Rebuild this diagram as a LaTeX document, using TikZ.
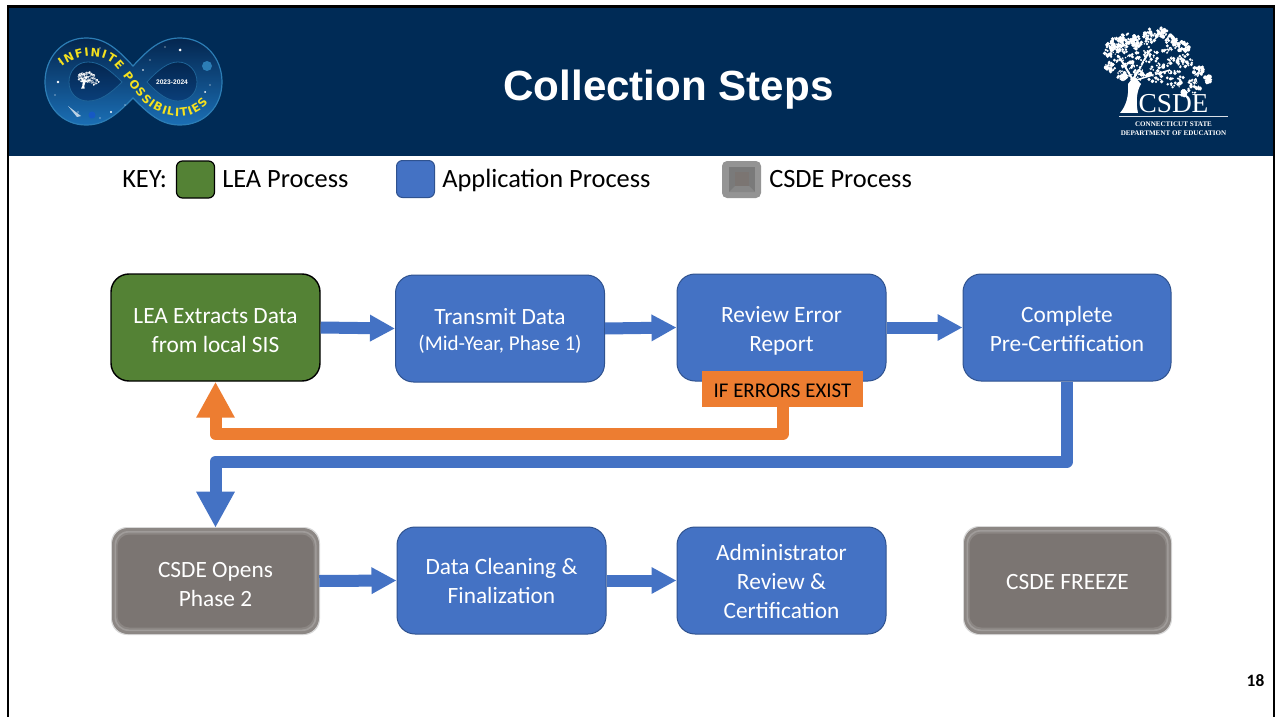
\documentclass[tikz,border=0pt]{standalone}
\usepackage{fontspec}
\setmainfont{Carlito}
\newfontfamily\arialfont{Liberation Sans}
\newfontfamily\timesfont{Liberation Serif}
\newfontfamily\wideboldfont{DejaVu Sans}
\usetikzlibrary{arrows.meta,decorations.text}
\newlength{\px}\setlength{\px}{0.75pt}
\newcommand{\topgap}[1]{\rule{0pt}{#1pt}}
\definecolor{navy}{HTML}{002B56}
\definecolor{procblue}{HTML}{4472C4}
\definecolor{procedge}{HTML}{2F528F}
\definecolor{leagreen}{HTML}{548235}
\definecolor{errorange}{HTML}{ED7D31}
\definecolor{csdegray}{HTML}{7B7572}
\definecolor{bevelmid}{HTML}{8C8784}
\definecolor{bevellight}{HTML}{A09C9A}
\definecolor{ribbon}{HTML}{F5E11E}
\definecolor{logotop}{HTML}{04264F}
\definecolor{logomid}{HTML}{0A3565}
\definecolor{logolow}{HTML}{1B6FB5}
\definecolor{logoedge}{HTML}{2C7DB5}
\definecolor{holelow}{HTML}{0A3F7A}
\tikzset{
  stepbox/.style={rounded corners=18\px,minimum width=209\px,minimum height=107\px,align=center,text=white,inner sep=0pt,
    font=\fontsize{17.5pt}{21.75pt}\selectfont},
  bluebox/.style={stepbox,fill=procblue,draw=procedge,line width=1\px},
  greenbox/.style={stepbox,fill=leagreen,draw=black,line width=1.4\px},
  graybox/.style={stepbox,minimum width=207\px,minimum height=106\px},
  keytext/.style={font=\fontsize{19.8pt}{22pt}\selectfont,text=black,anchor=base west,inner sep=0pt},
  flow/.style={draw=procblue,line width=12\px,-{Triangle[length=18.75pt,width=18.75pt]}},
  bigflow/.style={line width=12\px,line join=round,-{Triangle[length=27pt,width=27pt]}},
}
\newcommand{\bevelbox}[4]{%
  \fill[rounded corners=16\px,fill=black!15] (#1-1,#2-1) rectangle (#3+1,#4+1);
  \fill[rounded corners=16\px,fill=bevelmid] (#1,#2) rectangle (#3,#4);
  \fill[rounded corners=14\px,fill=bevellight] (#1+2.5,#2+3) rectangle (#3-2.5,#4-3);
  \fill[rounded corners=13\px,fill=bevelmid] (#1+4,#2+4.5) rectangle (#3-4,#4-4.5);
  \fill[rounded corners=12\px,fill=csdegray] (#1+5.5,#2+6.5) rectangle (#3-5.5,#4-6.5);
}
\newcommand{\cluster}[4]{% x y r count
  \foreach \k in {1,...,#4}{
    \pgfmathsetmacro{\ang}{rnd*360}
    \pgfmathsetmacro{\dst}{sqrt(rnd)*#3}
    \pgfmathsetmacro{\rad}{0.7+rnd*1.4}
    \fill ({#1+\dst*cos(\ang)},{#2+\dst*sin(\ang)}) circle[radius=\rad];
  }
}
\newcommand{\treeart}{%
  \pgfmathsetseed{4711}
  \fill[white] (1120,113) .. controls (1126,106) and (1129,96) .. (1128,84) -- (1134,76) -- (1141,84)
     .. controls (1136,92) and (1136,104) .. (1138,113) -- cycle;
  \begin{scope}[white]
  \foreach \cx/\cy/\cr in {1110/50/7,1117/44/7,1126/40/7,1136/41/6,1150/36/7,1162/32/5,1172/42/7,
    1183/47/6,1124/58/10,1110/67/5,1144/53/11,1164/56/11,1185/62/8,1199/71/6,1207/79/4,
    1194/86/7,1175/78/10,1155/75/10,1136/73/8,1122/76/5,1184/93/3}{
    \cluster{\cx}{\cy}{\cr}{30}
  }
  \draw[line width=2\px] (1133,80) -- (1120,58);
  \draw[line width=2\px] (1134,78) -- (1150,50);
  \draw[line width=1.5\px] (1136,80) -- (1170,70);
  \end{scope}
  \begin{scope}[navy]
  \foreach \cx/\cy/\cr in {1125/52/9,1150/45/9,1160/68/12,1185/72/9,1140/66/7,1172/52/7,1118/70/5,1195/80/5}{
    \foreach \k in {1,...,12}{
      \pgfmathsetmacro{\ang}{rnd*360}
      \pgfmathsetmacro{\dst}{sqrt(rnd)*\cr}
      \pgfmathsetmacro{\rad}{0.3+rnd*0.8}
      \fill ({\cx+\dst*cos(\ang)},{\cy+\dst*sin(\ang)}) circle[radius=\rad];
    }
  }
  \end{scope}
}
\begin{document}
\begin{tikzpicture}[x=0.75pt,y=-0.75pt]
\useasboundingbox (0,0) rectangle (1275,717);
% slide frame and header
\fill[white] (0,0) rectangle (1275,717);
\fill[navy] (8,7) rectangle (1273,156);
\draw[black,line width=2.4\px] (8,717) -- (8,6.5) -- (1274,6.5) -- (1274,717);
% anniversary logo
\shade[top color=logotop,middle color=logomid,bottom color=logolow,draw=logoedge,line width=1.2\px]
 (133,66) .. controls (148,50) and (160,38) .. (180,38) .. controls (205,38) and (222,58) .. (222,82)
 .. controls (222,106) and (205,125) .. (180,125) .. controls (160,125) and (148,113) .. (133,98)
 .. controls (118,113) and (106,125) .. (86,125) .. controls (62,125) and (45,106) .. (45,82)
 .. controls (45,58) and (62,38) .. (86,38) .. controls (106,38) and (118,50) .. (133,66) -- cycle;
\shade[top color=logotop,bottom color=holelow,draw=logoedge!70!navy,line width=0.8\px]
 (122,82) .. controls (110,70) and (100,62) .. (88,62) .. controls (77,62) and (69,71) .. (69,82)
 .. controls (69,93) and (77,101) .. (88,101) .. controls (100,101) and (110,94) .. (122,82) -- cycle;
\shade[top color=logotop,bottom color=holelow,draw=logoedge!70!navy,line width=0.8\px]
 (147,82) .. controls (158,70) and (168,62) .. (178,62) .. controls (189,62) and (197,71) .. (197,82)
 .. controls (197,93) and (189,101) .. (178,101) .. controls (168,101) and (158,94) .. (147,82) -- cycle;
\foreach \sx/\sy/\sr in {58/82/1.3,180/50/1.5,205/92/1,111/112/1.2,78/112/.7,165/47/.7,143/70/.8,
  210/85/.7,60/62/.7,100/48/.6,125/105/.7,192/113/.7,150/60/.6,100/118/.7,55/95/.6}{
  \fill[white] (\sx,\sy) circle[radius=\sr];
}
\fill[logoedge] (207,66) circle[radius=5];
\fill[logolow!80!blue] (92,115) circle[radius=3.5];
\fill[white,opacity=.7] (81,116) -- (68,106) -- (77,117) -- cycle;
\begin{scope}[shift={(-143,66)},scale=0.2]
\clip (1100,25) rectangle (1215,120);
\treeart
\end{scope}
\node[text=white,inner sep=0pt,font=\arialfont\bfseries\fontsize{5pt}{6pt}\selectfont] (logoyears) at (172,82.5) {2023-2024};
\path[decorate,decoration={text along path,text align={fit to path},raise=0pt,
   text={|\wideboldfont\bfseries\fontsize{8.6pt}{9pt}\selectfont\color{ribbon}|INFINITE POSSIBILITIES}}]
 (62,67) .. controls (75,56) and (98,52) .. (112,63) .. controls (122,72) and (135,95) .. (147,105)
 .. controls (160,116) and (190,125) .. (208,103);
% CSDE logo
\treeart
\node[text=white,inner sep=0pt,anchor=base,font=\timesfont\fontsize{20.5pt}{24pt}\selectfont] (csdeword) at (1173.5,113) {CSDE};
\draw[white!85!navy,line width=1\px] (1119,116.7) -- (1228,116.7);
\node[text=white,inner sep=0pt,font=\timesfont\bfseries\fontsize{5.3pt}{6pt}\selectfont] (csdeone) at (1173.5,124) {CONNECTICUT STATE};
\node[text=white,inner sep=0pt,font=\timesfont\bfseries\fontsize{5.3pt}{6pt}\selectfont] (csdetwo) at (1173.5,133) {DEPARTMENT OF EDUCATION};
% title
\node[text=white,inner sep=0pt,anchor=base,font=\arialfont\bfseries\fontsize{31.6pt}{34pt}\selectfont] (title) at (668.5,101) {Collection Steps};
% key
\node[keytext] (keylabel) at (122,187.5) {KEY:};
\node[fill=leagreen,draw=black,line width=1.2\px,rounded corners=6\px,minimum width=38\px,minimum height=37\px,inner sep=0pt] (keygreen) at (195.5,179.5) {};
\node[keytext] (keylea) at (222,187.5) {LEA Process};
\node[fill=procblue,draw=procedge,line width=1\px,rounded corners=6\px,minimum width=38\px,minimum height=37\px,inner sep=0pt] (keyblue) at (415.5,179) {};
\node[keytext] (keyapp) at (442,187.5) {Application Process};
\fill[rounded corners=5\px,fill=black!42] (722,161) rectangle (761,198);
\fill[fill=black!52] (729,167) rectangle (755,192);
\fill[fill=black!47] (729,192) -- (755,192) -- (749,186) -- (735,186) -- cycle;
\fill[fill=csdegray] (735,172) rectangle (749,186);
\node[inner sep=0pt,minimum width=39\px,minimum height=37\px] (keygray) at (741.5,179.5) {};
\node[keytext] (keycsde) at (769,187.5) {CSDE Process};
% step boxes
\node[greenbox] (lea) at (215.5,327.5) {\topgap{16}LEA Extracts Data\\from local SIS};
\node[bluebox] (transmit) at (500,328.5) {\topgap{16}Transmit Data\\[-3\px]{\fontsize{15.8pt}{18pt}\selectfont (Mid-Year, Phase 1)}};
\node[bluebox] (review) at (781.5,327.5) {\topgap{17}Review Error\\Report};
\node[bluebox,minimum width=208\px] (complete) at (1067,327.5) {\topgap{14}Complete\\Pre-Certification};
\bevelbox{112}{528}{319}{634}
\node[graybox] (opens) at (215.5,581) {\topgap{17}CSDE Opens\\Phase 2};
\node[bluebox] (clean) at (501.5,580.5) {Data Cleaning \&\\Finalization};
\node[bluebox] (admin) at (781.5,580.5) {\topgap{14}Administrator\\Review \&\\Certification};
\bevelbox{964}{527}{1171}{634}
\node[graybox] (freeze) at (1067.5,580.5) {\topgap{14}CSDE FREEZE};
% connectors
\draw[flow] (lea.east) -- (transmit.west);
\draw[flow] (transmit.east) -- (review.west);
\draw[flow] (review.east) -- (complete.west);
\draw[flow] (opens.east) -- (clean.west);
\draw[flow] (clean.east) -- (admin.west);
\node[fill=errorange,text=black,inner sep=0pt,minimum width=161\px,minimum height=36\px,font=\fontsize{15.7pt}{18pt}\selectfont] (errors) at (782.5,389) {\topgap{13}IF ERRORS EXIST};
\draw[bigflow,draw=errorange] (errors.south) -- ++(0,27) -| (lea.south);
\draw[bigflow,draw=procblue] (complete.south) -- ++(0,80) -| (opens.north);
% page number
\node[text=black,inner sep=0pt,font=\bfseries\fontsize{13pt}{15pt}\selectfont] (pagenum) at (1255.5,681) {18};
\end{tikzpicture}
\end{document}
